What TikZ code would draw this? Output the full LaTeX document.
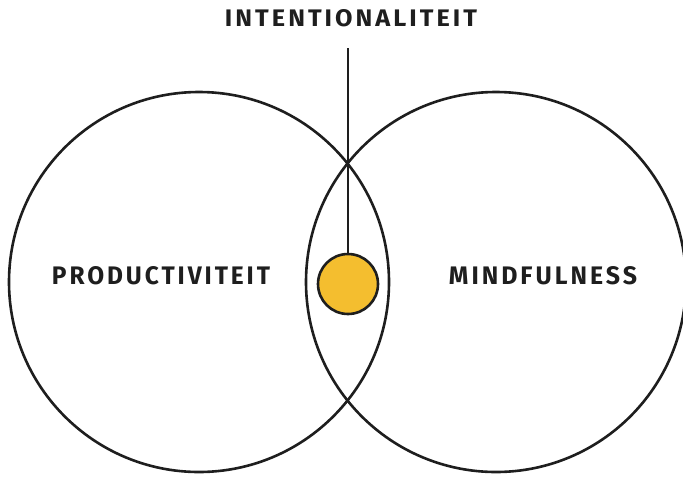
\documentclass[tikz,border=0pt]{standalone}
\usepackage{fontspec}
\usepackage{graphicx}
\newfontfamily\handfont[LetterSpace=12]{Fira Sans}
\definecolor{ink}{HTML}{1E1E1E}
\definecolor{sun}{HTML}{F4BE2F}
\tikzset{
  bigcircle/.style={circle, draw=ink, line width=2.6pt, minimum size=380pt, inner sep=0pt},
  dotcircle/.style={circle, draw=ink, fill=sun, line width=2.6pt, minimum size=60pt, inner sep=0pt},
  lbl/.style={inner sep=0pt, text=ink, font=\handfont\bfseries},
  stem/.style={draw=ink, line width=2.6pt}
}
\begin{document}
\begin{tikzpicture}[x=1pt,y=-1pt]
\useasboundingbox (0,0) rectangle (683,477);
\node[bigcircle] (left) at (199,282) {};
\node[bigcircle] (right) at (496,282) {};
\node[dotcircle] (dot) at (348,284) {};
\coordinate (top) at (348,48);
\draw[stem] (top) -- (dot.north);
\node[lbl, anchor=south] (t1) at (351,27) {\resizebox{252pt}{17pt}{INTENTIONALITEIT}};
\node[lbl, anchor=south] (t2) at (161,285) {\resizebox{218pt}{18pt}{PRODUCTIVITEIT}};
\node[lbl, anchor=south] (t3) at (543,285) {\resizebox{188pt}{18pt}{MINDFULNESS}};
\end{tikzpicture}
\end{document}
